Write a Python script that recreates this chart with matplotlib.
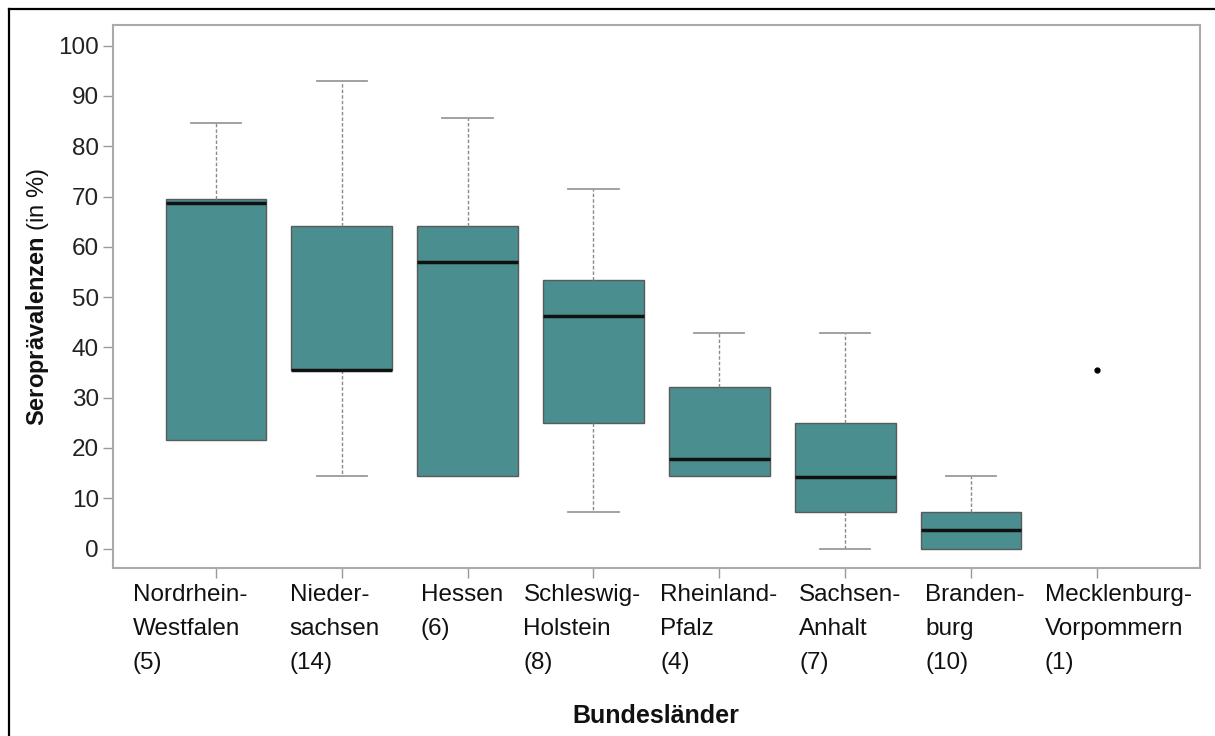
import matplotlib
matplotlib.use("Agg")
import matplotlib.pyplot as plt
from matplotlib.lines import Line2D

plt.rcParams["font.family"] = ["Liberation Sans", "DejaVu Sans"]
plt.rcParams["mathtext.fontset"] = "custom"
plt.rcParams["mathtext.rm"] = "Liberation Sans"
plt.rcParams["mathtext.bf"] = "Liberation Sans:bold"

# Bundesländer mit Anzahl der Proben
laender = ["Nordrhein-\nWestfalen", "Nieder-\nsachsen", "Hessen", "Schleswig-\nHolstein",
           "Rheinland-\nPfalz", "Sachsen-\nAnhalt", "Branden-\nburg", "Mecklenburg-\nVorpommern"]
n_proben = [5, 14, 6, 8, 4, 7, 10, 1]

# Boxplot-Kennwerte (in %)
whisker_unten = [21.5, 14.4, 14.4, 7.2, 14.4, 0.0, 0.0]
q1 = [21.5, 35.6, 14.4, 25.0, 14.4, 7.2, 0.0]
median = [68.7, 35.6, 57.0, 46.3, 17.8, 14.3, 3.6]
q3 = [69.5, 64.2, 64.2, 53.4, 32.2, 25.0, 7.2]
whisker_oben = [84.7, 92.9, 85.7, 71.4, 42.8, 42.8, 14.4]

# Mecklenburg-Vorpommern: nur ein Wert
einzelwert = [35.6]

teal = "#4a8e8f"

fig = plt.figure(figsize=(12.15, 7.36), dpi=100)
ax = fig.add_axes([0.0928, 0.2287, 0.8949, 0.7373])

stats = []
for i in range(len(q1)):
    stats.append({"whislo": whisker_unten[i], "q1": q1[i], "med": median[i],
                  "q3": q3[i], "whishi": whisker_oben[i], "fliers": []})

bp = ax.bxp(stats, positions=range(1, len(q1) + 1), widths=0.8, patch_artist=True,
            boxprops=dict(facecolor=teal, edgecolor="#5a5a5a", linewidth=1.0),
            medianprops=dict(color="#111111", linewidth=2.5),
            whiskerprops=dict(color="#8a8a8a", linewidth=1.0, linestyle=(0, (2.5, 1.5))),
            capprops=dict(color="#9a9a9a", linewidth=1.3),
            capwidths=0.4)

# Kappen ohne Whisker ausblenden
for i in range(len(q1)):
    if whisker_unten[i] == q1[i]:
        bp["caps"][2 * i].set_visible(False)
    if whisker_oben[i] == q3[i]:
        bp["caps"][2 * i + 1].set_visible(False)

ax.plot([8] * len(einzelwert), einzelwert, "o", color="black", markersize=3.5)

ax.set_xlim(0.18, 8.82)
ax.set_ylim(-3.8, 104.1)
ax.set_yticks(range(0, 101, 10))
ax.set_xticks(range(1, 9))
ax.set_xticklabels([])
ax.tick_params(axis="both", direction="out", length=7, width=1.0, color="#999999",
               labelsize=17.5, labelcolor="#222222")
ax.tick_params(axis="y", pad=3)
for s in ax.spines.values():
    s.set_color("#aaaaaa")
    s.set_linewidth(1.5)

# Beschriftung der Kategorien, linksbündig
verschiebung_px = [-83, -52, -47, -70, -59, -46, -46, -52]
for i, (name, n) in enumerate(zip(laender, n_proben)):
    ax.annotate(f"{name}\n({n})", xy=(i + 1, 0), xycoords=("data", "axes fraction"),
                xytext=(verschiebung_px[i] * 0.72, -11.5), textcoords="offset points",
                ha="left", va="top", fontsize=17.5, color="#111111", linespacing=1.72,
                annotation_clip=False)

fig.text(38 / 1215, 1 - 297 / 736, r"$\bf{Seroprävalenzen}$ (in %)", rotation=90,
         ha="center", va="center", fontsize=17, color="#111111")
fig.text(656 / 1215, 1 - 716 / 736, "Bundesländer", ha="center", va="center",
         fontsize=18, fontweight="bold", color="#111111")

# Rahmen oben und links
fig.add_artist(Line2D([9 / 1215, 1], [1 - 9 / 736] * 2, color="black", linewidth=1.6,
                      transform=fig.transFigure))
fig.add_artist(Line2D([9 / 1215] * 2, [0, 1 - 9 / 736], color="black", linewidth=1.6,
                      transform=fig.transFigure))

fig.savefig("out.png", dpi=100)
